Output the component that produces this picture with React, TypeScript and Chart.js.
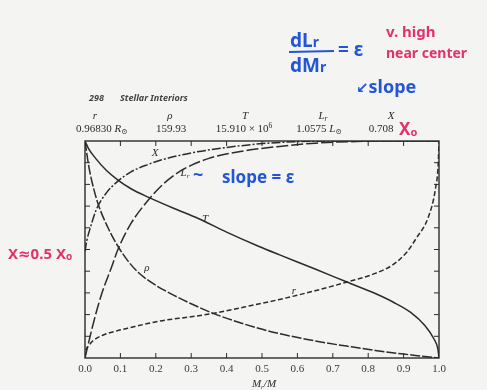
import { useEffect, useRef } from "react";
import { Chart, registerables } from "chart.js";

Chart.register(...registerables);

// Normalised solar-model profiles against interior mass fraction M_r/M.
const tMass = [0, 0.01, 0.03, 0.06, 0.093, 0.13, 0.18, 0.25, 0.32, 0.4, 0.49, 0.55, 0.65, 0.74, 0.82, 0.87, 0.92, 0.96, 0.985, 0.997, 1];
const tValues = [1, 0.965, 0.92, 0.865, 0.82, 0.78, 0.74, 0.69, 0.643, 0.58, 0.515, 0.475, 0.41, 0.35, 0.297, 0.258, 0.21, 0.15, 0.09, 0.04, 0];

const rhoMass = [0, 0.01, 0.02, 0.037, 0.065, 0.093, 0.12, 0.15, 0.2, 0.25, 0.3, 0.36, 0.42, 0.49, 0.55, 0.62, 0.68, 0.75, 0.82, 0.9, 0.95, 1];
const rhoValues = [1, 0.89, 0.81, 0.71, 0.6, 0.515, 0.45, 0.395, 0.335, 0.29, 0.25, 0.207, 0.172, 0.137, 0.112, 0.088, 0.07, 0.052, 0.035, 0.018, 0.009, 0];

const xMass = [0, 0.005, 0.015, 0.031, 0.06, 0.093, 0.13, 0.18, 0.21, 0.3, 0.4, 0.5, 0.6, 0.7, 1];
const xValues = [0.49, 0.54, 0.6, 0.68, 0.76, 0.815, 0.858, 0.893, 0.91, 0.945, 0.97, 0.988, 0.997, 1, 1];

const lMass = [0, 0.01, 0.03, 0.05, 0.073, 0.093, 0.13, 0.18, 0.22, 0.27, 0.35, 0.45, 0.55, 0.65, 0.75, 0.85, 1];
const lValues = [0, 0.07, 0.2, 0.31, 0.41, 0.5, 0.62, 0.73, 0.8, 0.862, 0.92, 0.955, 0.975, 0.99, 0.997, 1, 1];

const rMass = [0, 0.002, 0.01, 0.023, 0.05, 0.09, 0.12, 0.21, 0.3, 0.36, 0.45, 0.55, 0.65, 0.74, 0.82, 0.87, 0.91, 0.935, 0.97, 0.99, 0.998, 1];
const rValues = [0, 0.03, 0.055, 0.08, 0.105, 0.125, 0.137, 0.17, 0.19, 0.205, 0.235, 0.27, 0.31, 0.35, 0.39, 0.43, 0.49, 0.55, 0.65, 0.78, 0.9, 1];

// Central values heading the table row above the plot.
const headerLabels = ["r", "ρ", "T", "L", "X"];
const headerValues = ["0.96830", "159.93", "15.910 × 10", "1.0575", "0.708"];

const INK = "#2b2b2b";
const BLUE = "#2356d6";
const RED = "#e3326a";
const SERIF = "'Liberation Serif', 'DejaVu Serif', serif";
const HAND = "'Noto Sans', 'DejaVu Sans', sans-serif";

type Run = { text: string; font: string; dy?: number; color?: string };

function drawRuns(ctx: CanvasRenderingContext2D, runs: Run[], x: number, y: number, align: "left" | "center" = "left", color = INK) {
  let total = 0;
  for (const r of runs) {
    ctx.font = r.font;
    total += ctx.measureText(r.text).width;
  }
  let cx = align === "center" ? x - total / 2 : x;
  ctx.textAlign = "left";
  ctx.textBaseline = "alphabetic";
  for (const r of runs) {
    ctx.font = r.font;
    ctx.fillStyle = r.color ?? color;
    ctx.fillText(r.text, cx, y + (r.dy ?? 0));
    cx += ctx.measureText(r.text).width;
  }
}

const pts = (m: number[], v: number[]) => m.map((x, i) => ({ x, y: v[i] }));

const framePlugin = {
  id: "frameAndNotes",
  beforeDraw(chart: any) {
    const { ctx, width, height } = chart;
    ctx.save();
    ctx.fillStyle = "#f4f4f3";
    ctx.fillRect(0, 0, width, height);
    ctx.restore();
  },
  afterDraw(chart: any) {
    const { ctx, chartArea: a, scales } = chart;
    const xs = scales.x;
    const ys = scales.y;
    ctx.save();
    // frame
    ctx.strokeStyle = INK;
    ctx.lineWidth = 1.4;
    ctx.strokeRect(a.left, a.top, a.right - a.left, a.bottom - a.top);
    ctx.lineWidth = 1;
    // inward ticks on all four sides
    for (let i = 1; i < 10; i++) {
      const v = i / 10;
      const px = xs.getPixelForValue(v);
      const py = ys.getPixelForValue(v);
      ctx.beginPath();
      ctx.moveTo(px, a.bottom);
      ctx.lineTo(px, a.bottom - 5);
      ctx.moveTo(px, a.top);
      ctx.lineTo(px, a.top + 5);
      ctx.moveTo(a.left, py);
      ctx.lineTo(a.left + 5, py);
      ctx.moveTo(a.right, py);
      ctx.lineTo(a.right - 5, py);
      ctx.stroke();
    }

    // page header
    drawRuns(ctx, [{ text: "298", font: `italic bold 9px ${HAND}` }], 89, 101, "left", "#444");
    drawRuns(ctx, [{ text: "Stellar Interiors", font: `italic bold 9px ${HAND}` }], 120, 101, "left", "#444");

    // table row of central values
    const it = `italic 11px ${SERIF}`;
    const rm = `11px ${SERIF}`;
    const sm = `7.5px ${SERIF}`;
    drawRuns(ctx, [{ text: headerLabels[0], font: it }], 95, 119, "center");
    drawRuns(ctx, [{ text: headerLabels[1], font: it }], 170, 119, "center");
    drawRuns(ctx, [{ text: headerLabels[2], font: it }], 245, 119, "center");
    drawRuns(ctx, [{ text: headerLabels[3], font: it }, { text: "r", font: `italic 7.5px ${SERIF}`, dy: 2 }], 323, 119, "center");
    drawRuns(ctx, [{ text: headerLabels[4], font: it }], 391, 119, "center");

    drawRuns(ctx, [{ text: headerValues[0] + " ", font: rm }, { text: "R", font: it }, { text: "⊙", font: sm, dy: 2 }], 76, 132);
    drawRuns(ctx, [{ text: headerValues[1], font: rm }], 171, 132, "center");
    drawRuns(ctx, [{ text: headerValues[2], font: rm }, { text: "6", font: sm, dy: -4 }], 244, 132, "center");
    drawRuns(ctx, [{ text: headerValues[3] + " ", font: rm }, { text: "L", font: it }, { text: "⊙", font: sm, dy: 2 }], 319, 132, "center");
    drawRuns(ctx, [{ text: headerValues[4], font: rm }], 381, 132, "center");
    drawRuns(ctx, [{ text: "X", font: `bold 17px ${HAND}` }, { text: "o", font: `bold 11px ${HAND}`, dy: 1 }], 399, 135, "left", RED);

    // curve labels
    const lab = `italic 11px ${SERIF}`;
    drawRuns(ctx, [{ text: "X", font: lab }], 155, 156, "center");
    drawRuns(ctx, [{ text: "L", font: lab }, { text: "r", font: `italic 7px ${SERIF}`, dy: 2 }], 185, 176, "center");
    drawRuns(ctx, [{ text: "T", font: lab }], 205, 222, "center");
    drawRuns(ctx, [{ text: "ρ", font: lab }], 147, 271, "center");
    drawRuns(ctx, [{ text: "r", font: lab }], 294, 294, "center");

    // axis title
    drawRuns(ctx, [{ text: "M", font: lab }, { text: "r", font: `italic 7px ${SERIF}`, dy: 2 }, { text: "/M", font: lab }], 264, 387, "center");

    // handwritten notes
    const hb = `bold 19px ${HAND}`;
    drawRuns(ctx, [{ text: "dL", font: hb }, { text: "r", font: `bold 14px ${HAND}` }], 290, 47, "left", BLUE);
    ctx.strokeStyle = BLUE;
    ctx.lineWidth = 2;
    ctx.beginPath();
    ctx.moveTo(289, 52);
    ctx.lineTo(334, 51);
    ctx.stroke();
    drawRuns(ctx, [{ text: "dM", font: hb }, { text: "r", font: `bold 14px ${HAND}` }], 290, 72, "left", BLUE);
    drawRuns(ctx, [{ text: "= ε", font: hb }], 338, 56, "left", BLUE);
    drawRuns(ctx, [{ text: "v. high", font: `bold 15px ${HAND}` }], 386, 37, "left", RED);
    drawRuns(ctx, [{ text: "near center", font: `bold 14px ${HAND}` }], 386, 58, "left", RED);
    drawRuns(ctx, [{ text: "↙", font: `bold 15px ${HAND}` }, { text: "slope", font: `bold 18px ${HAND}` }], 356, 93, "left", BLUE);
    drawRuns(ctx, [{ text: "~", font: `bold 18px ${HAND}` }], 193, 181, "left", BLUE);
    drawRuns(ctx, [{ text: "slope = ε", font: `bold 17px ${HAND}` }], 222, 183, "left", BLUE);
    drawRuns(ctx, [{ text: "X≈0.5 X", font: `bold 15px ${HAND}` }, { text: "o", font: `bold 10px ${HAND}`, dy: 1 }], 8, 259, "left", RED);
    ctx.restore();
  },
};

export default function App() {
  const ref = useRef<HTMLCanvasElement | null>(null);

  useEffect(() => {
    if (!ref.current) return;
    const line = (data: { x: number; y: number }[], dash: number[]) => ({
      data,
      borderColor: INK,
      borderWidth: 1.5,
      borderDash: dash,
      pointRadius: 0,
      fill: false,
      cubicInterpolationMode: "monotone" as const,
    });
    const chart = new Chart(ref.current, {
      type: "line",
      data: {
        datasets: [
          { label: "T", ...line(pts(tMass, tValues), []) },
          { label: "ρ", ...line(pts(rhoMass, rhoValues), [10, 2]) },
          { label: "X", ...line(pts(xMass, xValues), [9, 2, 2, 2]) },
          { label: "Lr", ...line(pts(lMass, lValues), [12, 3]) },
          { label: "r", ...line(pts(rMass, rValues), [5, 2.5]) },
        ],
      },
      options: {
        responsive: false,
        animation: false,
        layout: { padding: { left: 85, right: 48, top: 141, bottom: 0 } },
        plugins: { legend: { display: false }, tooltip: { enabled: false } },
        scales: {
          x: {
            type: "linear",
            min: 0,
            max: 1,
            grid: { display: false, drawTicks: false },
            border: { display: false },
            ticks: {
              stepSize: 0.1,
              padding: 5,
              color: "#3a3a3a",
              font: { family: SERIF, size: 11 },
              callback: (v: any) => Number(v).toFixed(1),
            },
            afterFit: (s: any) => {
              s.height = 32;
            },
          },
          y: { display: false, min: 0, max: 1 },
        },
      },
      plugins: [framePlugin],
    });
    return () => chart.destroy();
  }, []);

  return (
    <div style={{ position: "fixed", left: 0, top: 0, width: 487, height: 390, background: "#f4f4f3" }}>
      <canvas ref={ref} width={487} height={390} />
    </div>
  );
}
